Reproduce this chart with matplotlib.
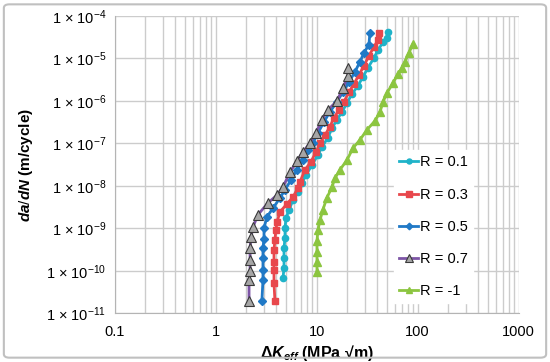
import math
import matplotlib
matplotlib.use('Agg')
import matplotlib.pyplot as plt
from matplotlib.ticker import FixedLocator, FuncFormatter, LogLocator, NullFormatter
from matplotlib.patches import FancyBboxPatch

plt.rcParams['font.family'] = ['Liberation Sans', 'DejaVu Sans']
plt.rcParams['mathtext.fontset'] = 'custom'
plt.rcParams['mathtext.rm'] = 'Liberation Sans'
plt.rcParams['mathtext.it'] = 'Liberation Sans:bold:italic'
plt.rcParams['mathtext.bf'] = 'Liberation Sans:bold'

# Data: dK_eff (MPa sqrt(m)) and da/dN (m/cycle)
dk_r01 = [4.64, 4.75, 4.75, 4.75, 4.86, 4.86, 4.97, 5.32, 5.83, 6.53, 7.15, 7.84, 8.98, 10.3, 11.3,
          12.9, 14.2, 15.9, 17.8, 20.0, 22.4, 25.6, 28.7, 32.2, 36.9, 40.5, 45.4, 49.7, 50.8]
da_r01 = [6.8e-11, 1.18e-10, 2.0e-10, 3.5e-10, 6.0e-10, 1.03e-9, 1.77e-9, 2.7e-9, 4.7e-9, 7.2e-9,
          1.18e-8, 1.8e-8, 3.1e-8, 5.4e-8, 8.3e-8, 1.35e-7, 2.3e-7, 3.6e-7, 5.5e-7, 9.0e-7, 1.46e-6,
          2.25e-6, 3.7e-6, 6.0e-6, 1.03e-5, 1.58e-5, 2.4e-5, 3.0e-5, 4.2e-5]

dk_r03 = [3.86, 3.78, 3.78, 3.78, 3.78, 3.86, 3.95, 4.05, 4.33, 5.08, 5.83, 6.53, 6.83, 7.66, 8.78,
          9.84, 10.8, 12.1, 13.5, 14.8, 16.6, 18.6, 20.9, 23.4, 26.2, 29.4, 32.9, 36.9, 40.5, 41.4]
da_r03 = [2.0e-11, 5.2e-11, 1.06e-10, 1.63e-10, 3.1e-10, 5.4e-10, 9.2e-10, 1.42e-9, 2.45e-9, 3.8e-9,
          5.5e-9, 9.0e-9, 1.24e-8, 2.4e-8, 3.7e-8, 6.3e-8, 1.03e-7, 1.58e-7, 2.45e-7, 4.0e-7, 6.1e-7,
          9.5e-7, 1.63e-6, 2.5e-6, 4.1e-6, 6.7e-6, 1.15e-5, 1.87e-5, 2.7e-5, 4.0e-5]

dk_r05 = [2.87, 2.94, 2.94, 2.94, 2.94, 3.01, 3.01, 3.22, 3.69, 4.33, 4.86, 5.57, 6.38, 7.32, 8.20,
          9.19, 10.3, 11.8, 13.5, 15.9, 18.2, 20.9, 23.9, 26.8, 29.4, 32.9, 33.7]
da_r05 = [2.0e-11, 6.1e-11, 1.06e-10, 2.0e-10, 3.5e-10, 5.7e-10, 1.03e-9, 1.87e-9, 3.0e-9, 5.2e-9,
          8.1e-9, 1.38e-8, 2.4e-8, 4.1e-8, 7.0e-8, 1.03e-7, 1.77e-7, 3.2e-7, 5.5e-7, 9.5e-7, 1.63e-6,
          2.8e-6, 4.8e-6, 8.3e-6, 1.35e-5, 2.1e-5, 4.0e-5]

dk_r07 = [2.14, 2.14, 2.19, 2.19, 2.19, 2.24, 2.34, 2.62, 3.30, 4.05, 4.64, 5.44, 6.38, 7.32, 8.59,
          9.84, 11.3, 12.9, 15.9, 18.2, 20.4, 20.4]
da_r07 = [2.0e-11, 6.1e-11, 1.0e-10, 1.8e-10, 3.5e-10, 6.3e-10, 1.08e-9, 2.1e-9, 4.0e-9, 6.1e-9,
          9.5e-9, 2.1e-8, 3.9e-8, 6.3e-8, 1.03e-7, 1.77e-7, 3.6e-7, 6.1e-7, 1.0e-6, 2.0e-6, 3.9e-6, 6.0e-6]

dk_rm1 = [10.07, 10.07, 10.07, 10.07, 10.3, 10.8, 11.5, 12.6, 14.2, 15.2, 17.0, 20.0, 22.9, 26.8,
          31.5, 37.8, 42.4, 45.4, 49.7, 57.0, 63.8, 70.0, 74.9, 82.0, 89.8]
da_rm1 = [9.5e-11, 1.63e-10, 2.8e-10, 5.1e-10, 9.2e-10, 1.58e-9, 2.7e-9, 5.2e-9, 9.5e-9, 1.54e-8,
          2.4e-8, 4.1e-8, 7.8e-8, 1.21e-7, 2.1e-7, 3.4e-7, 5.5e-7, 9.5e-7, 1.54e-6, 2.65e-6, 4.3e-6,
          6.0e-6, 8.3e-6, 1.35e-5, 2.2e-5]

x_ticks = [0.1, 1, 10, 100, 1000]
y_exps = [-11, -10, -9, -8, -7, -6, -5, -4]

fig = plt.figure(figsize=(5.5, 3.62), dpi=100)
ax = fig.add_axes([0.2085, 0.134, 0.7345, 0.822])

# Plot each R ratio
ax.plot(dk_r01, da_r01, color='#1fb3c9', lw=2, marker='o', ms=4.5, mec='#1fb3c9', label='R = 0.1')
ax.plot(dk_r03, da_r03, color='#e8474c', lw=2, marker='s', ms=5, mec='#e8474c', label='R = 0.3')
ax.plot(dk_r05, da_r05, color='#2079c6', lw=2, marker='D', ms=4.2, mec='#2079c6', label='R = 0.5')
ax.plot(dk_r07, da_r07, color='#7d55a6', lw=2, marker='^', ms=6.5, mfc='#a6a6a6', mec='#3a3a3a',
        mew=0.8, label='R = 0.7')
ax.plot(dk_rm1, da_rm1, color='#8cc540', lw=2, marker='^', ms=5.5, mec='#8cc540', label='R = -1')

ax.set_xscale('log')
ax.set_yscale('log')
ax.set_xlim(0.1, 1000)
ax.set_ylim(1e-11, 1e-4)

ax.xaxis.set_major_locator(FixedLocator(x_ticks))
ax.xaxis.set_major_formatter(FuncFormatter(lambda v, _: '%g' % v))
ax.xaxis.set_minor_locator(LogLocator(base=10, subs=range(2, 10)))
ax.xaxis.set_minor_formatter(NullFormatter())
ax.yaxis.set_major_locator(FixedLocator([10.0 ** e for e in y_exps]))
ax.yaxis.set_major_formatter(FuncFormatter(lambda v, _: r'1 × 10$^{%d}$' % round(math.log10(v))))
ax.yaxis.set_minor_locator(FixedLocator([]))

ax.grid(True, which='major', axis='both', color='#cccccc', lw=1)
ax.grid(True, which='minor', axis='x', color='#cccccc', lw=1)
ax.set_axisbelow(True)
ax.tick_params(which='both', length=0, labelsize=10.5, colors='#000000')
ax.tick_params(axis='x', pad=8)
ax.tick_params(axis='y', pad=6)
for s in ax.spines.values():
    s.set_color('#b4b4b4')
ax.spines['top'].set_visible(False)
ax.spines['right'].set_visible(False)

ax.set_xlabel(r'Δ$K_{eff}$ (MPa √m)', fontsize=11.5, fontweight='bold', labelpad=3)
ax.set_ylabel(r'$da/dN$ (m/cycle)', fontsize=11, fontweight='bold', labelpad=8)

# Legend sits in a white box inside the plot area
leg = ax.legend(loc='upper left', bbox_to_anchor=(0.674, 0.035, 0.247, 0.538), frameon=True,
                fontsize=10.5, handlelength=1.3, handletextpad=0.1, labelspacing=1.25,
                borderpad=0.35, markerscale=0.8, fancybox=False)
leg.get_frame().set_facecolor('white')
leg.get_frame().set_edgecolor('white')
leg.get_frame().set_alpha(1)

# Outer chart border
fig.patches.append(FancyBboxPatch((0.007, 0.012), 0.986, 0.976, boxstyle='round,pad=0,rounding_size=0.01',
                                  transform=fig.transFigure, fc='none', ec='#c0c0c0', lw=1.5))

fig.savefig('out.png', dpi=100)
